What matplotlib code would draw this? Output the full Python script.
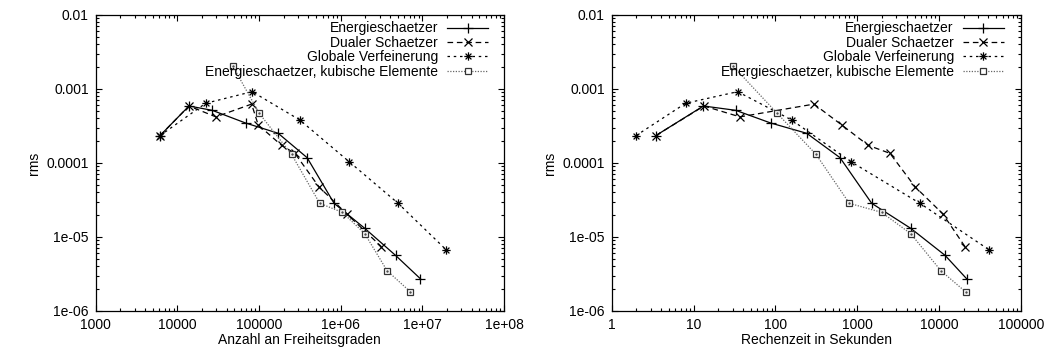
import numpy as np
import matplotlib.pyplot as plt
from matplotlib.path import Path
from matplotlib.ticker import LogLocator, NullFormatter

plt.rcParams['font.family'] = ['Liberation Sans', 'DejaVu Sans']
plt.rcParams['font.size'] = 10

# Energieschaetzer (lineare Elemente)
energie_dof = [6120, 13870, 26700, 68400, 171500, 388000, 830000, 1.97e6, 4.69e6, 9.48e6]
energie_zeit = [3.45, 13.2, 32.7, 87.5, 241, 615, 1500, 4490, 11800, 21700]
energie_rms = [2.34e-4, 5.89e-4, 5.15e-4, 3.47e-4, 2.52e-4, 1.18e-4, 2.85e-5, 1.31e-5, 5.65e-6, 2.72e-6]

# Dualer Schaetzer
dual_dof = [6120, 13870, 29600, 81100, 97700, 189000, 275000, 540000, 1.18e6, 3.15e6]
dual_zeit = [3.45, 13.4, 36.9, 296, 645, 1362, 2507, 5070, 11050, 20700]
dual_rms = [2.34e-4, 5.89e-4, 4.2e-4, 6.25e-4, 3.27e-4, 1.73e-4, 1.35e-4, 4.78e-5, 2.06e-5, 7.4e-6]

# Globale Verfeinerung
glob_dof = [6120, 22200, 82400, 316000, 1.27e6, 5.05e6, 1.97e7]
glob_zeit = [1.98, 8.0, 34.6, 158, 837, 5830, 41000]
glob_rms = [2.34e-4, 6.41e-4, 9.2e-4, 3.81e-4, 1.04e-4, 2.85e-5, 6.67e-6]

# Energieschaetzer, kubische Elemente
kub_dof = [47400, 100500, 250000, 554000, 1.05e6, 1.97e6, 3.7e6, 7.15e6]
kub_zeit = [30, 105, 313, 800, 1985, 4490, 10500, 21100]
kub_rms = [2.07e-3, 4.69e-4, 1.31e-4, 2.85e-5, 2.15e-5, 1.11e-5, 3.5e-6, 1.81e-6]

labels = ['Energieschaetzer', 'Dualer Schaetzer', 'Globale Verfeinerung',
          'Energieschaetzer, kubische Elemente']

# gnuplot-like asterisk (+ and x together)
star = Path([(-1, 0), (1, 0), (0, -1), (0, 1), (-0.7, -0.7), (0.7, 0.7), (-0.7, 0.7), (0.7, -0.7)],
            [Path.MOVETO, Path.LINETO] * 4)

fig = plt.figure(figsize=(10.47, 3.51), dpi=100)
ax1 = fig.add_axes([0.0914, 0.114, 0.390, 0.8433])
ax2 = fig.add_axes([0.5842, 0.114, 0.3910, 0.8433])


def draw(ax, e_x, d_x, g_x, k_x, leg_x):
    ax.plot(e_x, energie_rms, color='black', lw=0.9, marker='+', ms=6.5, mew=0.9, label=labels[0])
    ax.plot(d_x, dual_rms, color='black', lw=0.9, ls=(0, (4.5, 3)), marker='x', ms=5.5, mew=0.9,
            label=labels[1])
    ax.plot(g_x, glob_rms, color='black', lw=0.9, ls=(0, (2, 3)), marker=star, ms=6, mew=0.9,
            label=labels[2])
    ax.plot(k_x, kub_rms, color='0.4', lw=0.9, ls=(0, (1, 1.2)), marker='s', ms=5, mew=0.9,
            mfc='white', mec='0.2', label=labels[3])
    ax.plot(k_x, kub_rms, ls='none', marker='.', ms=1.5, color='0.3')
    ax.set_yscale('log')
    ax.set_xscale('log')
    ax.set_ylim(1e-6, 1e-2)
    ax.set_yticks([1e-6, 1e-5, 1e-4, 1e-3, 1e-2])
    ax.set_yticklabels(['1e-06', '1e-05', '0.0001', '0.001', '0.01'])
    ax.yaxis.set_minor_locator(LogLocator(base=10, subs=np.arange(2, 10)))
    ax.yaxis.set_minor_formatter(NullFormatter())
    ax.xaxis.set_minor_locator(LogLocator(base=10, subs=np.arange(2, 10)))
    ax.xaxis.set_minor_formatter(NullFormatter())
    ax.tick_params(which='both', direction='in', top=True, right=True, width=0.8)
    ax.tick_params(which='major', length=4, pad=5)
    ax.tick_params(which='minor', length=2)
    ax.set_ylabel('rms', labelpad=4)
    for s in ax.spines.values():
        s.set_linewidth(0.9)
    ax.legend(loc='upper right', bbox_to_anchor=(leg_x, 0.978), frameon=False, markerfirst=False,
              handlelength=2.95, handletextpad=0.65, labelspacing=0.03, borderaxespad=0,
              borderpad=0, fontsize=10)


draw(ax1, energie_dof, dual_dof, glob_dof, kub_dof, 0.961)
ax1.set_xlim(1e3, 1e8)
ax1.set_xticks([1e3, 1e4, 1e5, 1e6, 1e7, 1e8])
ax1.set_xticklabels(['1000', '10000', '100000', '1e+06', '1e+07', '1e+08'])
ax1.set_xlabel('Anzahl an Freiheitsgraden', labelpad=1)

draw(ax2, energie_zeit, dual_zeit, glob_zeit, kub_zeit, 0.958)
ax2.set_xlim(1, 1e5)
ax2.set_xticks([1, 10, 100, 1000, 10000, 100000])
ax2.set_xticklabels(['1', '10', '100', '1000', '10000', '100000'])
ax2.set_xlabel('Rechenzeit in Sekunden', labelpad=1)

fig.savefig('out.png', dpi=100)
